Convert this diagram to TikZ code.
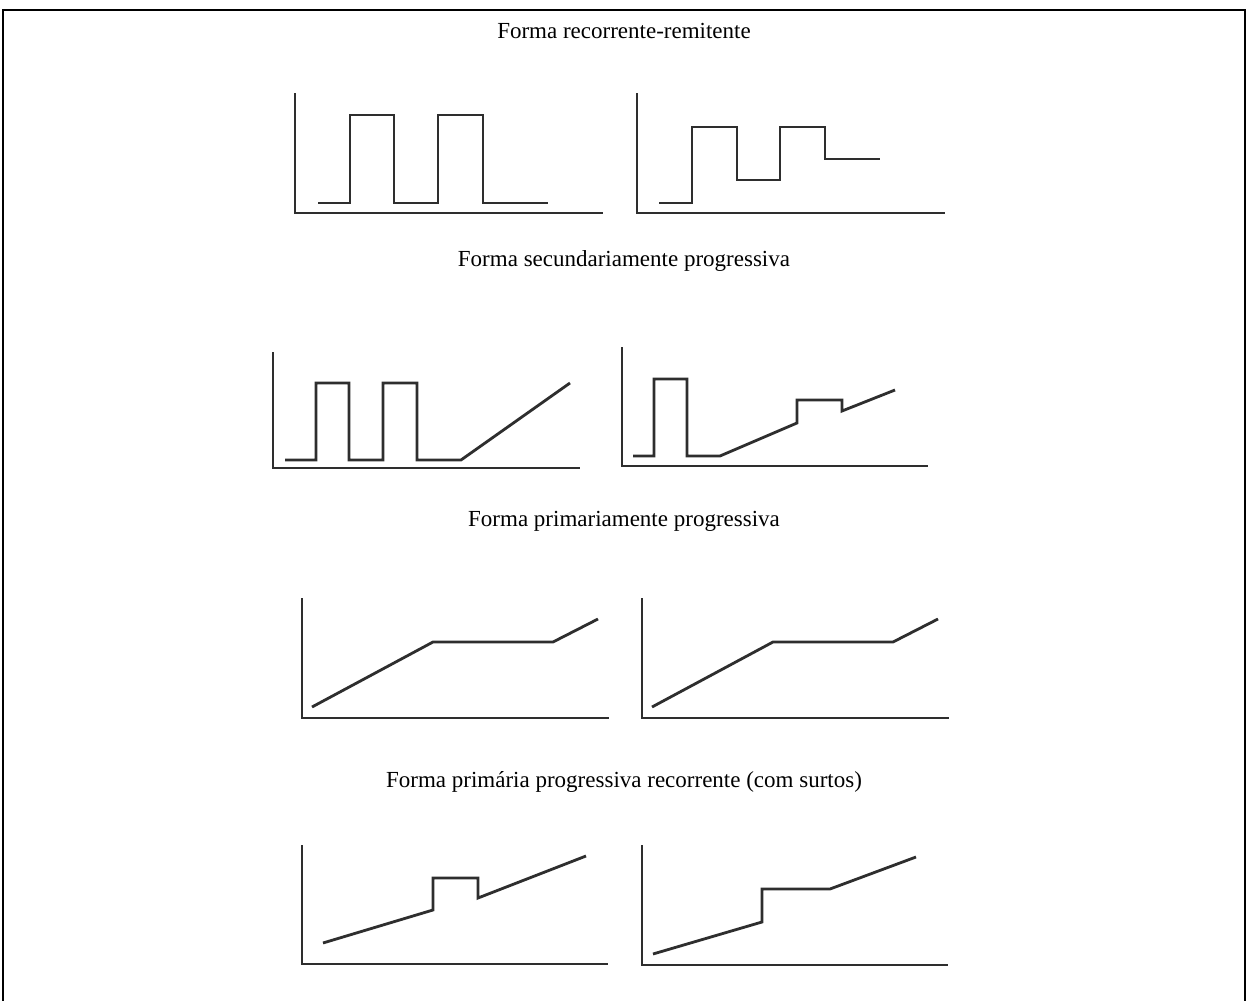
\documentclass[tikz,border=0pt]{standalone}
\usepackage{fontspec}
\setmainfont{Liberation Serif}
\begin{document}
\begin{tikzpicture}[x=1pt,y=-1pt,
  axis/.style={line width=2.8pt,draw=black!82,line cap=butt},
  curve/.style={line width=2.8pt,draw=black!82,line join=miter},
  frame/.style={line width=2.2pt,draw=black},
  title/.style={font=\fontsize{23}{27}\selectfont,anchor=base,inner sep=0pt}]
\useasboundingbox (0,0) rectangle (1248,1001);
\fill[white] (0,0) rectangle (1248,1001);
% frame
\draw[frame] (3,1001) -- (3,10) -- (1245,10) -- (1245,1001);
% titles
\node[title] (t1) at (624,38) {Forma recorrente-remitente};
\node[title] (t2) at (624,266) {Forma secundariamente progressiva};
\node[title] (t3) at (624,526) {Forma primariamente progressiva};
\node[title] (t4) at (624,787) {Forma primária progressiva recorrente (com surtos)};
% row 1 left
\draw[axis] (295,93) -- (295,213) -- (603,213);
\draw[curve] (318,203) -- (350,203) -- (350,115) -- (394,115) -- (394,203) -- (438,203) -- (438,115) -- (483,115) -- (483,203) -- (548,203);
% row 1 right
\draw[axis] (637,93) -- (637,213) -- (945,213);
\draw[curve] (659,203) -- (692,203) -- (692,127) -- (737,127) -- (737,180) -- (780,180) -- (780,127) -- (825,127) -- (825,159) -- (880,159);
% row 2 left
\draw[axis] (273,352) -- (273,468) -- (580,468);
\draw[curve] (285,460) -- (316,460) -- (316,383) -- (349,383) -- (349,460) -- (383,460) -- (383,383) -- (417,383) -- (417,460) -- (461,460) -- (570,383);
% row 2 right
\draw[axis] (622,347) -- (622,466) -- (928,466);
\draw[curve] (633,456) -- (654,456) -- (654,379) -- (687,379) -- (687,456) -- (720,456) -- (797,423) -- (797,400) -- (842,400) -- (842,411) -- (895,390);
% row 3 left
\draw[axis] (302,598) -- (302,718) -- (609,718);
\draw[curve] (312,707) -- (433,642) -- (553,642) -- (598,619);
% row 3 right
\draw[axis] (642,598) -- (642,718) -- (949,718);
\draw[curve] (652,707) -- (773,642) -- (893,642) -- (938,619);
% row 4 left
\draw[axis] (302,845) -- (302,964) -- (608,964);
\draw[curve] (323,943) -- (433,910) -- (433,878) -- (478,878) -- (478,898) -- (586,856);
% row 4 right
\draw[axis] (642,845) -- (642,965) -- (948,965);
\draw[curve] (653,954) -- (762,922) -- (762,889) -- (830,889) -- (916,857);
\end{tikzpicture}
\end{document}
